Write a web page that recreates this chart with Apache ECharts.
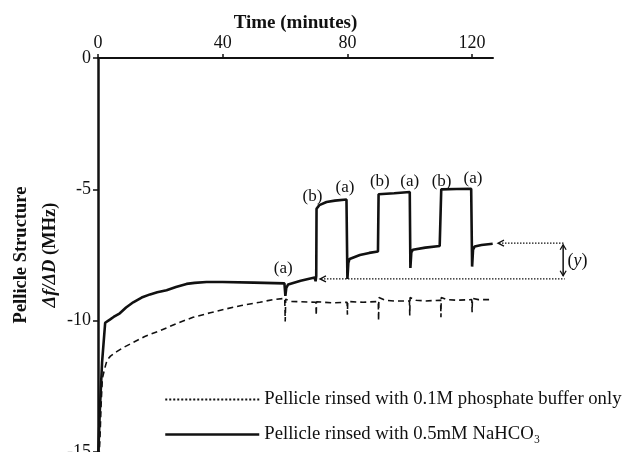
<!DOCTYPE html>
<html>
<head>
<meta charset="utf-8">
<script src="https://cdn.jsdelivr.net/npm/echarts@6/dist/echarts.min.js"></script>
<style>
  html, body { margin: 0; padding: 0; background: #fff; }
  #main { width: 628px; height: 452px; }
</style>
</head>
<body>
<div id="main"></div>
<script>
// time (minutes), structure value (MHz)
var bicarbData = [
    [0.05, -15.2], [0.6, -13.4], [1.3, -11.6], [2.3, -10.08], [3.8, -9.96], [5, -9.86],
    [7, -9.72], [9, -9.5], [11.3, -9.3], [14, -9.12], [16.7, -9.0], [19, -8.92],
    [22, -8.84], [25, -8.72], [28.4, -8.6], [31, -8.56], [34.8, -8.53], [40, -8.53],
    [50, -8.55], [59.8, -8.58], [60.1, -9.06], [60.4, -8.75], [61, -8.62], [65, -8.48],
    [69.5, -8.36], [69.8, -8.5], [70.0, -8.3], [70.1, -5.74], [71, -5.6], [73.3, -5.48],
    [76, -5.43], [79.7, -5.39], [80, -8.41], [80.3, -7.8], [80.7, -7.65], [84, -7.5],
    [87, -7.42], [89.8, -7.37], [90, -5.19], [95, -5.15], [100, -5.1], [100.2, -7.99],
    [100.5, -7.4], [101, -7.3], [105, -7.22], [109.6, -7.16], [110.1, -5.0], [115, -4.99],
    [119.7, -4.98], [120, -7.94], [120.3, -7.3], [120.8, -7.18], [123, -7.12], [126.6, -7.07]
];
var bufferData = [
    [0.3, -15.2], [0.6, -14.6], [1.0, -13.2], [1.4, -12.2], [2.2, -11.8], [2.9, -11.5],
    [4, -11.35], [6, -11.18], [8.5, -11.0], [11.3, -10.83], [15, -10.6], [19.9, -10.38],
    [25, -10.12], [30.5, -9.87], [36, -9.7], [41.2, -9.55], [46, -9.42], [51.9, -9.3],
    [56, -9.2], [59.9, -9.15], [60.05, -10.03], [60.2, -9.18], [62, -9.27], [65, -9.28],
    [69.9, -9.3], [70.0, -9.8], [70.1, -9.28], [75, -9.32], [79.9, -9.3], [80.0, -9.77],
    [80.1, -9.27], [85, -9.3], [89.9, -9.27], [90.0, -10.0], [90.1, -9.12], [92, -9.22],
    [95, -9.25], [99.9, -9.25], [100.0, -9.8], [100.1, -9.12], [102, -9.22], [105, -9.25],
    [109.9, -9.22], [110.0, -9.87], [110.1, -9.12], [112, -9.2], [115, -9.22], [119.9, -9.2],
    [120.0, -9.68], [120.1, -9.15], [122, -9.2], [125.6, -9.2]
];
var xTicks = [0, 40, 80, 120];
var yTicks = [0, -5, -10, -15];
var stageLabels = ['(a)', '(b)', '(a)', '(b)', '(a)', '(b)', '(a)'];
var stageCoords = [[59.4, -8.0], [68.8, -5.27], [79.2, -4.95], [90.4, -4.70], [100.0, -4.70], [110.2, -4.70], [120.3, -4.57]];
// (y) bracket: level after last rinse, baseline level
var yUpper = -7.05;
var yLower = -8.41;

var serif = 'Liberation Serif, Times New Roman, serif';
var ink = '#111';

var chart = echarts.init(document.getElementById('main'));

var option = {
    backgroundColor: '#fff',
    animation: false,
    grid: { left: 98, top: 58, right: 135, bottom: 0, containLabel: false, outerBoundsMode: 'none' },
    xAxis: {
        type: 'value',
        position: 'top',
        min: 0,
        max: 126.7,
        interval: 40,
        name: 'Time (minutes)',
        nameLocation: 'middle',
        nameGap: 25,
        nameMoveOverlap: false,
        nameTextStyle: { fontFamily: serif, fontWeight: 'bold', fontSize: 19, color: ink },
        axisLine: { lineStyle: { color: ink, width: 2 } },
        axisTick: { length: 4, lineStyle: { color: ink, width: 1.5 } },
        axisLabel: { fontFamily: serif, fontSize: 18, color: ink, margin: 6, showMaxLabel: false },
        splitLine: { show: false }
    },
    yAxis: {
        type: 'value',
        min: -15,
        max: 0,
        interval: 5,
        name: '{b|Pellicle Structure}\n{i|Δf/ΔD}{b| (MHz)}',
        nameLocation: 'middle',
        nameRotate: 90,
        nameGap: 33,
        nameMoveOverlap: false,
        nameTextStyle: {
            color: ink,
            lineHeight: 29,
            rich: {
                b: { fontFamily: serif, fontWeight: 'bold', fontSize: 18.5, color: ink, lineHeight: 29 },
                i: { fontFamily: serif, fontWeight: 'bold', fontStyle: 'italic', fontSize: 18.5, color: ink, lineHeight: 29 }
            }
        },
        axisLine: { lineStyle: { color: ink, width: 2.5 } },
        axisTick: { length: 5, lineStyle: { color: ink, width: 1.5 } },
        axisLabel: { fontFamily: serif, fontSize: 18, color: ink, margin: 7 },
        splitLine: { show: false }
    },
    legend: {
        orient: 'vertical',
        left: 159,
        top: 385,
        itemWidth: 94,
        itemHeight: 12,
        itemGap: 16,
        textStyle: { fontFamily: serif, fontSize: 18.7, color: ink },
        data: [
            {
                name: 'Pellicle rinsed with 0.1M phosphate buffer only',
                itemStyle: { color: 'transparent', borderWidth: 0 },
                lineStyle: { type: [2, 2], width: 2, color: ink }
            },
            {
                name: 'Pellicle rinsed with 0.5mM NaHCO₃',
                itemStyle: { color: 'transparent', borderWidth: 0 },
                lineStyle: { type: 'solid', width: 2.5, color: ink }
            }
        ]
    },
    series: [
        {
            name: 'Pellicle rinsed with 0.1M phosphate buffer only',
            type: 'line',
            symbol: 'none',
            data: bufferData,
            lineStyle: { color: ink, width: 1.6, type: [6, 4] },
            itemStyle: { color: ink }
        },
        {
            name: 'Pellicle rinsed with 0.5mM NaHCO₃',
            type: 'line',
            symbol: 'none',
            data: bicarbData,
            lineStyle: { color: ink, width: 2.6 },
            itemStyle: { color: ink },
            markPoint: {
                symbol: 'circle',
                symbolSize: 1,
                itemStyle: { color: 'transparent' },
                label: { show: true, position: 'inside', formatter: '{b}', fontFamily: serif, fontSize: 17, color: ink },
                data: stageLabels.map(function(lbl, i) {
                    return { name: lbl, coord: stageCoords[i] };
                })
            }
        }
    ]
};
chart.setOption(option);

// bracket arrows on the right, placed in data units past the axis end
function px(x, y) {
    return chart.convertToPixel({ gridIndex: 0 }, [x, y]);
}
var pUpTip = px(128.3, yUpper), pUpEnd = px(149.5, yUpper);
var pLoTip = px(71.2, yLower), pLoEnd = px(149.7, yLower);
var vx = px(149.2, 0)[0];
var vTop = px(0, yUpper - 0.06)[1], vBot = px(0, yLower + 0.12)[1];
var yText = px(153.8, (yUpper + yLower) / 2);
var dotted = { stroke: ink, lineWidth: 1.3, lineDash: [1.5, 1.5] };
var solidThin = { stroke: ink, lineWidth: 1.3, fill: 'none' };

function head(points) {
    return { type: 'polyline', shape: { points: points }, style: solidThin, silent: true };
}

chart.setOption({
    graphic: [
        { type: 'line', shape: { x1: pUpTip[0] + 1, y1: pUpTip[1], x2: pUpEnd[0], y2: pUpEnd[1] }, style: dotted, silent: true },
        head([[pUpTip[0] + 6, pUpTip[1] - 3], [pUpTip[0], pUpTip[1]], [pUpTip[0] + 6, pUpTip[1] + 3]]),
        { type: 'line', shape: { x1: pLoTip[0] + 1, y1: pLoTip[1], x2: pLoEnd[0], y2: pLoEnd[1] }, style: dotted, silent: true },
        head([[pLoTip[0] + 6, pLoTip[1] - 3], [pLoTip[0], pLoTip[1]], [pLoTip[0] + 6, pLoTip[1] + 3]]),
        { type: 'line', shape: { x1: vx, y1: vTop, x2: vx, y2: vBot }, style: { stroke: ink, lineWidth: 1.5 }, silent: true },
        head([[vx - 3, vTop + 5], [vx, vTop], [vx + 3, vTop + 5]]),
        head([[vx - 3, vBot - 5], [vx, vBot], [vx + 3, vBot - 5]]),
        {
            type: 'text',
            x: yText[0],
            y: yText[1],
            silent: true,
            style: {
                text: '({i|y})',
                rich: { i: { fontFamily: serif, fontStyle: 'italic', fontSize: 18, fill: ink } },
                font: '18px ' + serif,
                fill: ink,
                align: 'center',
                verticalAlign: 'middle'
            }
        }
    ]
});
</script>
</body>
</html>
